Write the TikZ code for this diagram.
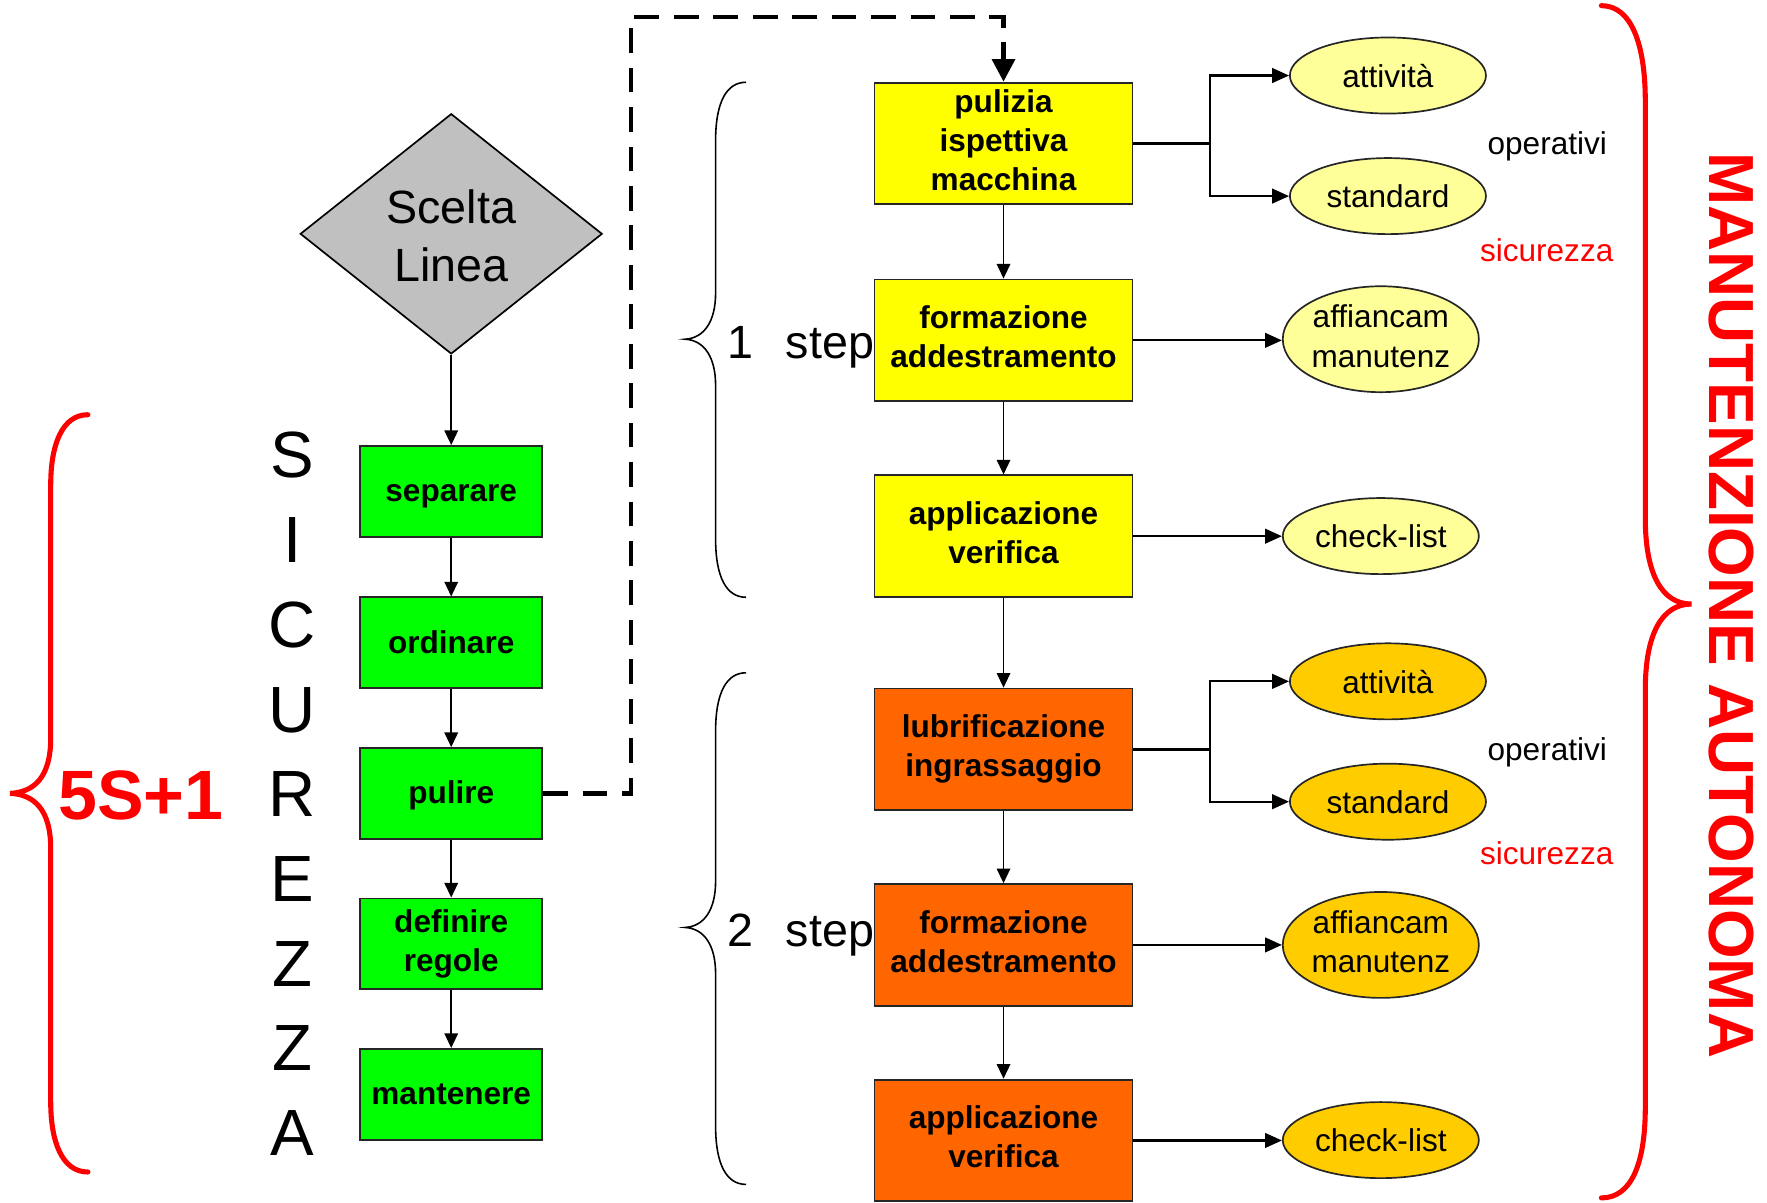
\documentclass[tikz,border=0pt]{standalone}
\usepackage{fontspec}
\setmainfont{Liberation Sans}
\usetikzlibrary{arrows.meta,shapes.geometric}
\definecolor{cGreen}{HTML}{00FF00}
\definecolor{cYellow}{HTML}{FFFF00}
\definecolor{cOrange}{HTML}{FF6600}
\definecolor{cLYell}{HTML}{FFFF99}
\definecolor{cGold}{HTML}{FFCC00}
\definecolor{cRed}{HTML}{FF0000}
\definecolor{cGray}{HTML}{C0C0C0}
\newcommand{\boxstrut}{\rule[-3.2pt]{0pt}{15.8pt}}
\newcommand{\ellstrut}{\rule[-2.9pt]{0pt}{16.2pt}}
\begin{document}
\begin{tikzpicture}[x=0.5pt,y=-0.5pt,
  box/.style={draw=black!85,line width=0.8pt,inner sep=0pt,align=center,
    font=\fontsize{14}{17.25}\selectfont\bfseries,
    execute at begin node=\boxstrut, execute at end node=\boxstrut},
  gbox/.style={box,fill=cGreen,minimum width=80.75pt,minimum height=40.25pt},
  ybox/.style={box,fill=cYellow,minimum width=114.5pt,minimum height=54pt},
  obox/.style={box,fill=cOrange,minimum width=114.5pt,minimum height=54pt},
  ell/.style={ellipse,draw=black!85,line width=0.75pt,inner sep=0pt,minimum width=87pt,minimum height=33.75pt},
  ell2/.style={ell,minimum height=47pt},
  etext/.style={inner sep=0pt,align=center,font=\fontsize{14}{17.5}\selectfont,
    execute at begin node=\ellstrut, execute at end node=\ellstrut},
  arr/.style={-{Triangle[length=6.5pt,width=6pt]},line width=0.75pt},
  earr/.style={-{Triangle[length=7.5pt,width=6.5pt]},line width=1pt},
  dsh/.style={-{Triangle[length=10pt,width=10pt]},line width=2pt,dash pattern=on 11pt off 6.5pt},
  letter/.style={inner sep=0pt,font=\fontsize{29}{29}\selectfont},
  bigtext/.style={inner sep=0pt,font=\fontsize{20.7}{25.5}\selectfont,align=center},
  small/.style={inner sep=0pt,font=\fontsize{14}{17}\selectfont},
  rbrace/.style={draw=cRed,line width=2.25pt,line cap=round},
  kbrace/.style={draw=black,line width=0.7pt}
]
\fill[white] (0,0) rectangle (1568,1067);
\useasboundingbox (0,0) rectangle (1568,1067);

% left red brace and 5S+1
\draw[rbrace] (78,368) .. controls (55,368) and (45,395) .. (45,430) -- (45,655)
  .. controls (45,690) and (30,703) .. (9,704) .. controls (30,705) and (45,718) .. (45,753)
  -- (45,978) .. controls (45,1013) and (55,1040) .. (78,1040);
\node[inner sep=0pt,font=\fontsize{31}{31}\selectfont\bfseries,text=cRed] (fives) at (125,705.6) {5S+1};

% SICUREZZA
\node[letter] (l1) at (259.6,404) {S};
\node[letter] (l2) at (259.6,479) {I};
\node[letter] (l3) at (259.6,554.5) {C};
\node[letter] (l4) at (259.6,630) {U};
\node[letter] (l5) at (259.6,705) {R};
\node[letter] (l6) at (259.6,780) {E};
\node[letter] (l7) at (259.6,855) {Z};
\node[letter] (l8) at (259.6,930) {Z};
\node[letter] (l9) at (259.6,1005) {A};

% diamond
\node[diamond,draw=black,line width=0.75pt,fill=cGray,inner sep=0pt,
  minimum width=134pt,minimum height=106.6pt] (dia) at (400.4,207.5) {};
\node[bigtext] (diat) at (400.4,209.3) {Scelta\\Linea};

% green column
\node[gbox] (s1) at (400.4,436) {separare};
\node[gbox] (s2) at (400.4,570.3) {ordinare};
\node[gbox] (s3) at (400.4,704) {pulire};
\node[gbox] (s4) at (400.4,837.5) {definire\\regole};
\node[gbox] (s5) at (400.4,971) {mantenere};
\draw[arr] (dia.south) -- (s1.north);
\draw[arr] (s1.south) -- (s2.north);
\draw[arr] (s2.south) -- (s3.north);
\draw[arr] (s3.south) -- (s4.north);
\draw[arr] (s4.south) -- (s5.north);

% step braces and labels
\draw[kbrace] (662,73) .. controls (645,73) and (635,90) .. (635,125) -- (635,260)
  .. controls (635,285) and (625,300) .. (608,301) .. controls (625,302) and (635,317) .. (635,342)
  -- (635,478) .. controls (635,513) and (645,530) .. (662,530);
\draw[kbrace] (662,597) .. controls (645,597) and (635,614) .. (635,649) -- (635,782)
  .. controls (635,807) and (625,822) .. (608,823) .. controls (625,824) and (635,839) .. (635,864)
  -- (635,999) .. controls (635,1034) and (645,1051) .. (662,1051);
\node[bigtext,anchor=base west] (st1) at (645.5,318) {1\hspace{14.25pt}step};
\node[bigtext,anchor=base west] (st2) at (645.5,840) {2\hspace{14.25pt}step};

% yellow / orange column
\node[ybox] (y1) at (890.5,127.3) {pulizia\\ispettiva\\macchina};
\node[ybox] (y2) at (890.5,302) {formazione\\addestramento};
\node[ybox] (y3) at (890.5,475.8) {applicazione\\verifica};
\node[obox] (o1) at (890.5,665) {lubrificazione\\ingrassaggio};
\node[obox] (o2) at (890.5,838.5) {formazione\\addestramento};
\node[obox] (o3) at (890.5,1012) {applicazione\\verifica};
\draw[arr] (y1.south) -- (y2.north);
\draw[arr] (y2.south) -- (y3.north);
\draw[arr] (y3.south) -- (o1.north);
\draw[arr] (o1.south) -- (o2.north);
\draw[arr] (o2.south) -- (o3.north);

% dashed link
\coordinate (dt) at (560,15);
\draw[dsh] (s3.east) -| (dt) -| (y1.north);

% ellipses upper
\node[ell,fill=cLYell] (e1) at (1231.6,67) {};
\node[etext] (e1t) at (e1) {attività};
\node[ell,fill=cLYell] (e2) at (1231.6,174) {};
\node[etext] (e2t) at (e2) {standard};
\node[ell2,fill=cLYell] (e3) at (1225.3,301) {};
\node[etext] (e3t) at (e3) {affiancam\\manutenz};
\node[ell,fill=cLYell] (e4) at (1225.3,475.7) {};
\node[etext] (e4t) at (e4) {check-list};
% ellipses lower
\node[ell,fill=cGold] (f1) at (1231.6,604.6) {};
\node[etext] (f1t) at (f1) {attività};
\node[ell,fill=cGold] (f2) at (1231.6,711.4) {};
\node[etext] (f2t) at (f2) {standard};
\node[ell2,fill=cGold] (f3) at (1225.3,838.5) {};
\node[etext] (f3t) at (f3) {affiancam\\manutenz};
\node[ell,fill=cGold] (f4) at (1225.3,1011.7) {};
\node[etext] (f4t) at (f4) {check-list};

% connectors to ellipses
\coordinate (b1) at (1073.5,127.3);
\draw[line width=1pt] (y1.east) -- (b1);
\draw[earr] (b1) |- (e1.west);
\draw[earr] (b1) |- (e2.west);
\draw[earr] (y2.east) -- (y2.east -| e3.west);
\draw[earr] (y3.east) -- (y3.east -| e4.west);
\coordinate (b2) at (1073.5,665);
\draw[line width=1pt] (o1.east) -- (b2);
\draw[earr] (b2) |- (f1.west);
\draw[earr] (b2) |- (f2.west);
\draw[earr] (o2.east) -- (o2.east -| f3.west);
\draw[earr] (o3.east) -- (o3.east -| f4.west);

% side labels
\node[small,anchor=base] (op1) at (1373,137.5) {operativi};
\node[small,anchor=base,text=cRed] (si1) at (1372.5,232) {sicurezza};
\node[small,anchor=base] (op2) at (1373,674.4) {operativi};
\node[small,anchor=base,text=cRed] (si2) at (1372.5,766.7) {sicurezza};

% right red brace and title
\draw[rbrace] (1421,5) .. controls (1448,5) and (1460,40) .. (1460,90) -- (1460,460)
  .. controls (1460,510) and (1475,536) .. (1501,536) .. controls (1475,536) and (1460,562) .. (1460,612)
  -- (1460,982) .. controls (1460,1032) and (1448,1063) .. (1421,1063);
\node[inner sep=0pt,rotate=-90,font=\fontsize{28.3}{28.3}\selectfont\bfseries,text=cRed] (title) at (1536.5,537) {MANUTENZIONE AUTONOMA};
\end{tikzpicture}
\end{document}
